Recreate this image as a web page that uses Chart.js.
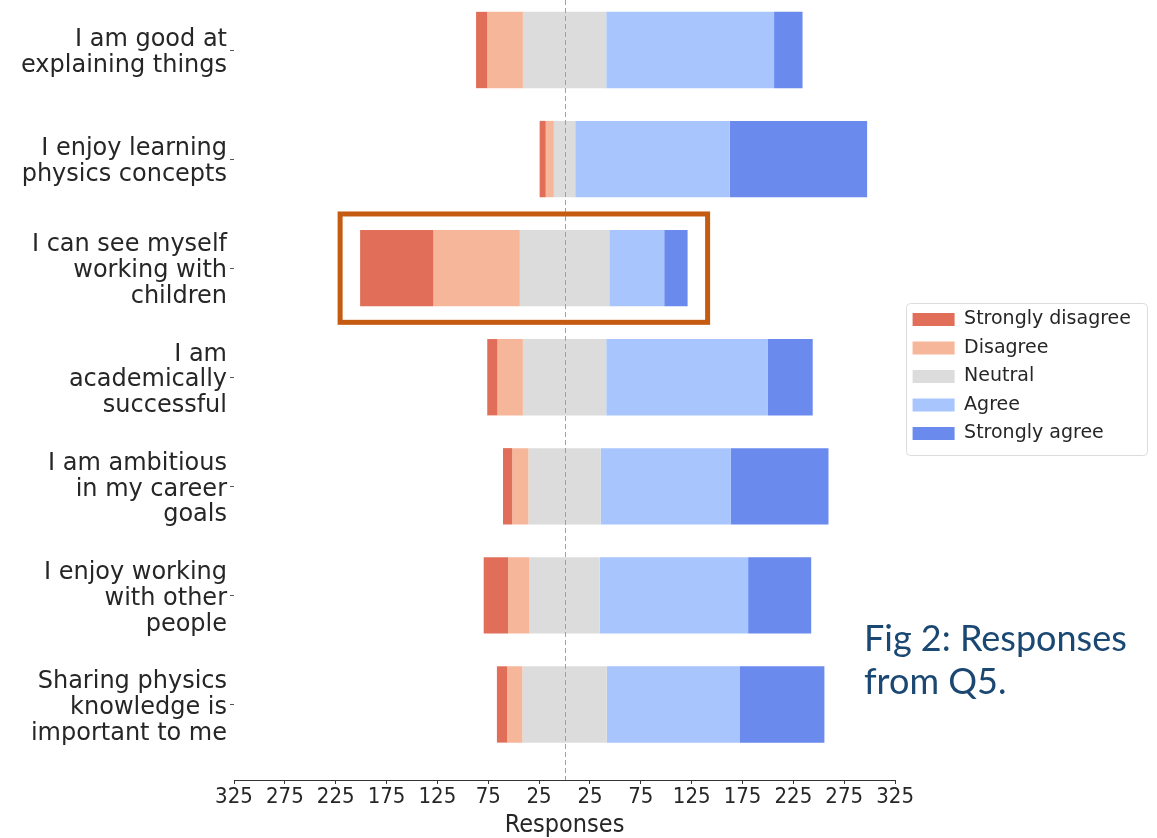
<!DOCTYPE html>
<html>
<head>
<meta charset="utf-8">
<script src="https://cdn.jsdelivr.net/npm/chart.js@4.4.1/dist/chart.umd.min.js"></script>
<style>
html,body{margin:0;padding:0;background:#ffffff;}
#wrap{position:relative;width:1157px;height:838px;overflow:hidden;}
#c{position:absolute;left:0;top:0;}
#fig{position:absolute;left:864px;top:616px;font-family:Lato,'Open Sans',sans-serif;font-size:36px;line-height:43px;color:#1b4872;white-space:nowrap;}
</style>
</head>
<body>
<div id="wrap">
<canvas id="c" width="1157" height="838"></canvas>
<div id="fig">Fig 2: Responses<br>from Q5.</div>
</div>
<script>
// ---- data ----
const categories = [
  ['I am good at', 'explaining things'],
  ['I enjoy learning', 'physics concepts'],
  ['I can see myself', 'working with', 'children'],
  ['I am', 'academically', 'successful'],
  ['I am ambitious', 'in my career', 'goals'],
  ['I enjoy working', 'with other', 'people'],
  ['Sharing physics', 'knowledge is', 'important to me']
];
const seriesNames = ['Strongly disagree', 'Disagree', 'Neutral', 'Agree', 'Strongly agree'];
const stronglyDisagree = [11, 6, 72, 10, 9, 24, 10];
const disagree         = [35, 8, 85, 25, 16, 21, 15];
const neutral          = [82, 21, 88, 82, 71, 69, 83];
const agree            = [165, 152, 54, 159, 128, 146, 131];
const stronglyAgree    = [28, 135, 23, 44, 96, 62, 83];
const xTickValues = [-325, -275, -225, -175, -125, -75, -25, 25, 75, 125, 175, 225, 275, 325];
const highlightedRow = 2;

// ---- styling ----
const colors = ['#e06e58', '#f5b69a', '#dcdcdc', '#a8c5fd', '#6a8aee'];
const series = [stronglyDisagree, disagree, neutral, agree, stronglyAgree];

// diverging layout: neutral centred on zero
const rowStarts = categories.map((_, i) => -(stronglyDisagree[i] + disagree[i] + neutral[i] / 2));
const datasets = series.map((vals, s) => ({
  label: seriesNames[s],
  backgroundColor: colors[s],
  borderWidth: 0,
  grouped: false,
  barPercentage: 0.7,
  categoryPercentage: 1.0,
  data: vals.map((v, i) => {
    let a = rowStarts[i];
    for (let k = 0; k < s; k++) a += series[k][i];
    return { y: i, x: [a, a + v] };
  })
}));

const tickColor = '#262626';

const zeroLine = {
  id: 'zeroLine',
  afterDatasetsDraw(chart) {
    const { ctx, chartArea, scales } = chart;
    const x = Math.round(scales.x.getPixelForValue(0)) + 0.5;
    ctx.save();
    ctx.strokeStyle = '#a0a0a0';
    ctx.lineWidth = 1;
    ctx.setLineDash([5, 3]);
    ctx.beginPath();
    ctx.moveTo(x, chartArea.top);
    ctx.lineTo(x, chartArea.bottom);
    ctx.stroke();
    ctx.restore();
  }
};

const highlightBox = {
  id: 'highlightBox',
  afterDatasetsDraw(chart) {
    const first = chart.getDatasetMeta(0).data[highlightedRow];
    const last = chart.getDatasetMeta(series.length - 1).data[highlightedRow];
    if (!first || !last) return;
    const { ctx } = chart;
    const left = Math.min(first.base, first.x) - 20;
    const right = Math.max(last.base, last.x) + 20;
    const top = first.y - first.height / 2 - 16;
    const bottom = first.y + first.height / 2 + 16;
    ctx.save();
    ctx.strokeStyle = '#c55a11';
    ctx.lineWidth = 5;
    ctx.strokeRect(left, top, right - left, bottom - top);
    ctx.restore();
  }
};

// shift the legend a little away from the plot area
const legendGap = {
  id: 'legendGap',
  afterLayout(chart) {
    const lg = chart.legend;
    if (!lg) return;
    const shift = chart.chartArea.right + 8 - lg.left;
    lg.left += shift;
    lg.right += shift;
  }
};

const legendFrame = {
  id: 'legendFrame',
  afterDraw(chart) {
    const lg = chart.legend;
    if (!lg || !lg.legendHitBoxes || !lg.legendHitBoxes.length) return;
    const hb = lg.legendHitBoxes;
    let l = Infinity, t = Infinity, r = -Infinity, b = -Infinity;
    hb.forEach(h => { l = Math.min(l, h.left); t = Math.min(t, h.top); r = Math.max(r, h.left + h.width); b = Math.max(b, h.top + h.height); });
    const { ctx } = chart;
    const x0 = Math.round(l - 7) + 0.5, y0 = Math.round(t - 7) + 0.5;
    const x1 = Math.round(r + 16) + 0.5, y1 = Math.round(b + 12) + 0.5;
    ctx.save();
    ctx.strokeStyle = '#dcdcdc';
    ctx.lineWidth = 1;
    ctx.beginPath();
    ctx.roundRect(x0, y0, x1 - x0, y1 - y0, 4);
    ctx.stroke();
    ctx.restore();
  }
};

new Chart(document.getElementById('c'), {
  type: 'bar',
  data: { datasets },
  plugins: [zeroLine, highlightBox, legendGap, legendFrame],
  options: {
    indexAxis: 'y',
    responsive: false,
    animation: false,
    layout: { padding: { left: 0, right: 24, top: 0, bottom: 0 } },
    plugins: {
      tooltip: { enabled: false },
      legend: {
        position: 'right',
        align: 'start',
        title: { display: true, text: '', font: { size: 10, lineHeight: 1 }, padding: { top: 290.5, bottom: 0 } },
        labels: {
          boxWidth: 42,
          boxHeight: 13,
          padding: 9.5,
          color: tickColor,
          font: { family: 'DejaVu Sans', size: 19 }
        }
      }
    },
    scales: {
      x: {
        type: 'linear',
        min: -325,
        max: 325,
        afterBuildTicks: (axis) => { axis.ticks = xTickValues.map(v => ({ value: v })); },
        afterFit: (axis) => { axis.height = 58; },
        ticks: {
          autoSkip: false,
          maxRotation: 0,
          padding: 2,
          color: tickColor,
          font: { family: "'DejaVu Sans Condensed', 'DejaVu Sans'", size: 22, lineHeight: 1.0 },
          callback: (v) => String(Math.abs(v))
        },
        grid: { drawOnChartArea: false, offset: false, tickLength: 4, color: '#333333' },
        border: { display: true, color: '#333333', width: 1 },
        title: {
          display: true,
          text: 'Responses',
          color: tickColor,
          font: { family: "'DejaVu Sans Condensed', 'DejaVu Sans'", size: 25, lineHeight: 1.0 },
          padding: { top: 0, bottom: 0 }
        }
      },
      y: {
        type: 'linear',
        reverse: true,
        offset: false,
        min: -0.4584,
        max: 6.6926,
        afterBuildTicks: (axis) => { axis.ticks = categories.map((_, i) => ({ value: i })); },
        afterFit: (axis) => { axis.width = 234; axis.paddingTop = 0; axis.paddingBottom = 0; },
        ticks: {
          autoSkip: false,
          padding: 3,
          labelOffset: 3,
          color: tickColor,
          font: { family: 'DejaVu Sans', size: 24, lineHeight: 1.08 },
          callback: (v) => categories[v]
        },
        grid: { drawOnChartArea: false, offset: false, tickLength: 4, color: '#555555' },
        border: { display: false }
      }
    }
  }
});
</script>
</body>
</html>
